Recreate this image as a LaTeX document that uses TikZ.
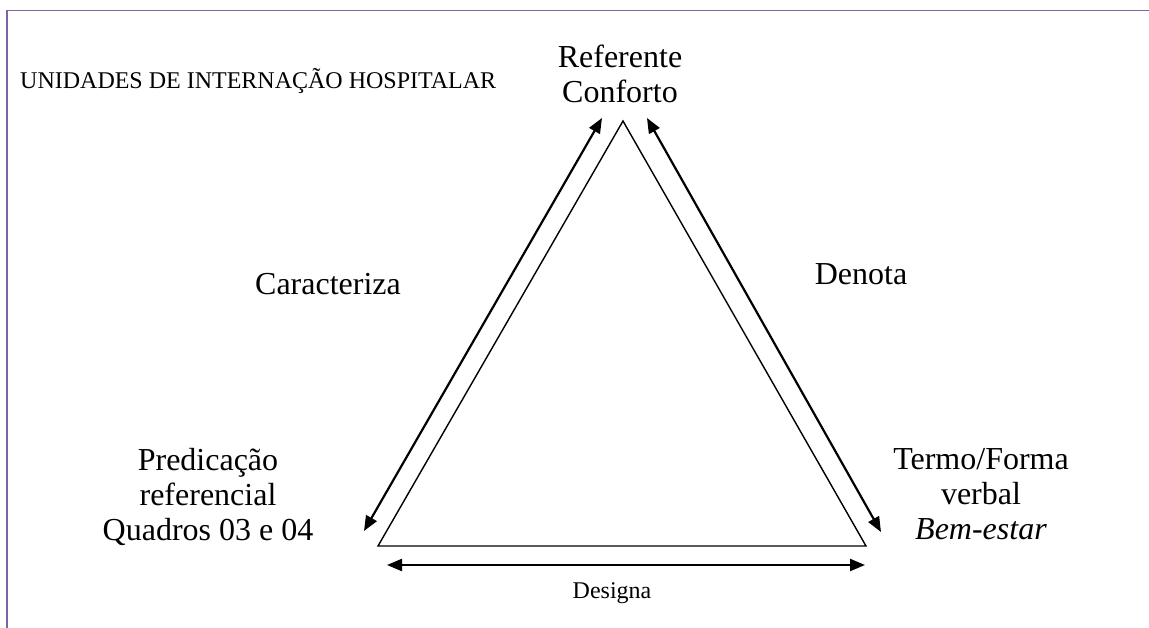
\documentclass[tikz,border=0pt]{standalone}
\usepackage{fontspec}
\setmainfont{Liberation Serif}
\usetikzlibrary{arrows.meta}
\definecolor{framepurple}{RGB}{128,100,162}
\begin{document}
\begin{tikzpicture}[x=1pt,y=-1pt,
  edge/.style={line width=1.4pt, line join=miter},
  rel/.style={line width=2.2pt,
    {Triangle[length=15pt,width=12pt]}-{Triangle[length=15pt,width=12pt]}},
  big/.style={font=\fontsize{32}{35}\selectfont, align=center, inner sep=0pt},
  small/.style={font=\fontsize{24}{27}\selectfont, inner sep=0pt}]
\useasboundingbox (0,0) rectangle (1149,628);
% page frame
\draw[framepurple, line width=1.2pt] (7,10.5) -- (1149,10.5);
\draw[framepurple, line width=2pt] (7,10) -- (7,628);

% semiotic triangle
\coordinate (apex) at (623,121);
\coordinate (bl) at (378,546);
\coordinate (br) at (866,546);
\draw[edge] (apex) -- (bl) -- (br) -- cycle;

% relation arrows
\coordinate (ca1) at (602,118);
\coordinate (ca2) at (364,531);
\coordinate (dn1) at (647,118);
\coordinate (dn2) at (881,532);
\coordinate (dg1) at (387,565);
\coordinate (dg2) at (865,565);
\draw[rel] (ca1) -- (ca2);
\draw[rel] (dn1) -- (dn2);
\draw[rel] (dg1) -- (dg2);

% labels (base anchor of a multi-line node = baseline of its last line)
\node[small, anchor=base west] (unid) at (20,89) {UNIDADES DE INTERNAÇÃO HOSPITALAR};
\node[big, anchor=base] (ref) at (620,103) {Referente\\Conforto};
\node[big, anchor=base] (pred) at (208,540) {Predicação\\referencial\\Quadros 03 e 04};
\node[big, anchor=base] (termo) at (981,539) {Termo/Forma\\verbal\\\textit{Bem-estar}};
\node[big, anchor=base] (car) at (328,295) {Caracteriza};
\node[big, anchor=base] (den) at (861,285) {Denota};
\node[small, anchor=base] (des) at (612,598) {Designa};
\end{tikzpicture}
\end{document}
